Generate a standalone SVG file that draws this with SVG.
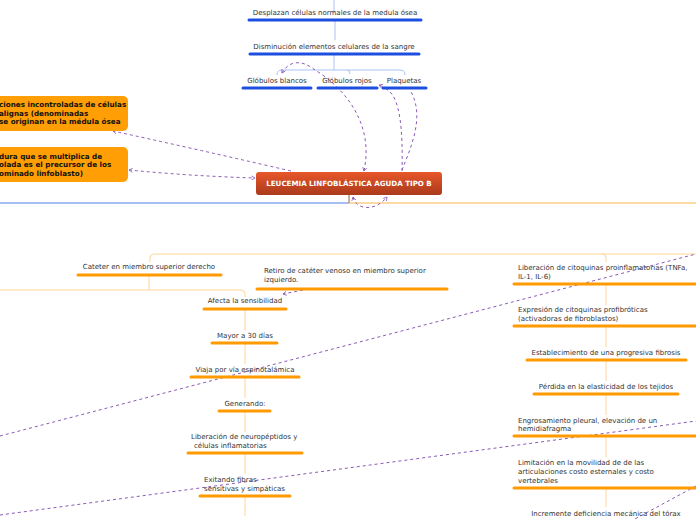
<svg xmlns="http://www.w3.org/2000/svg" width="696" height="520" viewBox="0 0 696 520">
<defs>
<linearGradient id="gr" x1="0" y1="0" x2="0" y2="1"><stop offset="0" stop-color="#e8572a"/><stop offset="1" stop-color="#aa3a1c"/></linearGradient>
<marker id="ar" viewBox="0 0 10 10" refX="8" refY="5" markerWidth="5" markerHeight="5" orient="auto-start-reverse"><path d="M1,1 L8,5 L1,9" fill="none" stroke="#8a5ab8" stroke-width="1.6"/></marker>
</defs>
<style>
text{font-family:"DejaVu Sans","Liberation Sans",sans-serif;font-size:7px;fill:#333}
.c{text-anchor:middle}
.ub{stroke:#1c4fe0;stroke-width:3;stroke-linecap:round}
.uo{stroke:#ff9a00;stroke-width:3;stroke-linecap:round}
.lb{stroke:#a9c3f2;stroke-width:1;fill:none}
.lo{stroke:#ffd699;stroke-width:1;fill:none}
.d{stroke:#8a5ab8;stroke-width:1;stroke-dasharray:3,3;fill:none}
.bx{fill:#ff9e05}
.bt{font-weight:bold;fill:#111;font-size:7.2px}
</style>
<rect width="696" height="520" fill="#fff"/>
<g id="links">
<path class="lb" d="M334,0 V13 M335,21 V40 M334,55 V70 M277,75 Q277,70 282,70 H400 Q405,70 405,75 M347,70 Q350,70 350,74"/>
<path d="M0,203 H349" stroke="#4f7fe8" stroke-width="1.2"/>
<path d="M349,203 H696" stroke="#f8b54c" stroke-width="1.2"/>
<path d="M349,195 V203" stroke="#b79a74" stroke-width="1.5"/>
<path class="lo" d="M150,262 V258 Q150,254 154,254 H696 M602,254 Q606,254 606,258 V262"/>
<path class="lo" d="M149,276 V290 M0,290 H241 Q245,290 245,294 V297"/>
<path class="lo" d="M245,310 V330 M245,344 V364 M245,378 V398 M245,412 V432 M245,454 V474 M245,497 V516"/>
<path class="lo" d="M606,285 V305 M606,327 V347 M606,361 V381 M606,395 V415 M606,437 V457 M606,489 V507"/>
<path class="d" d="M291,171 Q200,150 113,131" marker-end="url(#ar)"/>
<path class="d" d="M129,170 Q190,176 255,178" marker-start="url(#ar)" marker-end="url(#ar)"/>
<path class="d" d="M364,171 C375,120 340,85 315,70 C300,58 288,62 282,73" marker-start="url(#ar)" marker-end="url(#ar)"/>
<path class="d" d="M402,171 C403,130 400,100 389,91 Q384,87 379,85" marker-end="url(#ar)"/>
<path class="d" d="M402,170 C412,145 425,115 410,90"/>
<path class="d" d="M353,197 C356,210 375,212 387,197" marker-start="url(#ar)" marker-end="url(#ar)"/>
<path class="d" d="M303,290 L283,294" marker-end="url(#ar)"/>
<path class="d" d="M0,436 L696,254"/>
<path class="d" d="M0,515 L696,421"/>
<path class="d" d="M696,486 L633,520"/>
</g>
<g id="n-desplazan"><text class="c" x="335" y="15">Desplazan células normales de la medula ósea</text><line class="ub" x1="249" y1="20" x2="421" y2="20"/></g>
<g id="n-disminucion"><text class="c" x="334" y="49">Disminución elementos celulares de la sangre</text><line class="ub" x1="250" y1="54" x2="419" y2="54"/></g>
<g id="n-blancos"><text class="c" x="277" y="83">Glóbulos blancos</text><line class="ub" x1="243" y1="88" x2="311" y2="88"/></g>
<g id="n-rojos"><text class="c" x="347" y="83">Glóbulos rojos</text><line class="ub" x1="318" y1="88" x2="377" y2="88"/></g>
<g id="n-plaquetas"><text class="c" x="404" y="83">Plaquetas</text><line class="ub" x1="383" y1="88" x2="426" y2="88"/></g>
<g id="n-main"><rect x="256" y="172" width="186" height="23" rx="3" fill="url(#gr)"/><text class="c" x="349" y="186" style="fill:#fff;font-weight:bold;font-size:7.1px">LEUCEMIA LINFOBLÁSTICA AGUDA TIPO B</text></g>
<g id="n-box1"><rect class="bx" x="-10" y="96" width="138" height="35" rx="5"/><text class="bt" x="-1" y="107">ciones incontroladas de células</text><text class="bt" x="-1" y="116">alignas (denominadas</text><text class="bt" x="-1" y="124">se originan en la médula ósea</text></g>
<g id="n-box2"><rect class="bx" x="-10" y="147" width="138" height="35" rx="5"/><text class="bt" x="-1" y="159">dura que se multiplica de</text><text class="bt" x="-1" y="167">olada es el precursor de los</text><text class="bt" x="-1" y="176">ominado linfoblasto)</text></g>
<g id="n-cateter"><text class="c" x="149" y="269">Cateter  en miembro superior derecho</text><line class="uo" x1="78" y1="275" x2="221" y2="275"/></g>
<g id="n-retiro"><text x="264" y="273">Retiro de catéter venoso en miembro superior</text><text x="264" y="282">izquierdo.</text><line class="uo" x1="257" y1="289" x2="447" y2="289"/></g>
<g id="n-afecta"><text class="c" x="245" y="303">Afecta la sensibilidad</text><line class="uo" x1="204" y1="309" x2="286" y2="309"/></g>
<g id="n-mayor"><text class="c" x="245" y="338">Mayor a 30 días</text><line class="uo" x1="212" y1="343" x2="277" y2="343"/></g>
<g id="n-viaja"><text class="c" x="245" y="372">Viaja por vía espinotalámica</text><line class="uo" x1="191" y1="377" x2="299" y2="377"/></g>
<g id="n-generando"><text class="c" x="245" y="406">Generando:</text><line class="uo" x1="219" y1="411" x2="270" y2="411"/></g>
<g id="n-liberacion"><text x="191" y="439">Liberación de neuropéptidos y</text><text x="194" y="448">células inflamatorias</text><line class="uo" x1="188" y1="453" x2="302" y2="453"/></g>
<g id="n-exitando"><text x="204" y="482">Exitando fibras</text><text x="204" y="491">sensitivas y simpáticas</text><line class="uo" x1="200" y1="496" x2="290" y2="496"/></g>
<g id="n-citoquinas"><text x="518" y="270">Liberación de citoquinas proinflamatorias (TNFa,</text><text x="518" y="279">IL-1, IL-6)</text><line class="uo" x1="514" y1="284" x2="700" y2="284"/></g>
<g id="n-expresion"><text x="518" y="312">Expresión de citoquinas profibróticas</text><text x="518" y="321">(activadoras de fibroblastos)</text><line class="uo" x1="514" y1="326" x2="700" y2="326"/></g>
<g id="n-fibrosis"><text class="c" x="606" y="355">Establecimiento de una progresiva fibrosis</text><line class="uo" x1="527" y1="360" x2="686" y2="360"/></g>
<g id="n-perdida"><text class="c" x="606" y="389">Pérdida en la elasticidad de los tejidos</text><line class="uo" x1="534" y1="394" x2="678" y2="394"/></g>
<g id="n-engrosamiento"><text x="518" y="423">Engrosamiento pleural, elevación de un</text><text x="518" y="431">hemidiafragma</text><line class="uo" x1="514" y1="436" x2="700" y2="436"/></g>
<g id="n-limitacion"><text x="518" y="465">Limitación en la movilidad de de las</text><text x="518" y="474">articulaciones costo esternales y costo</text><text x="518" y="483">vertebrales</text><line class="uo" x1="514" y1="488" x2="700" y2="488"/></g>
<g id="n-incremente"><text class="c" x="606" y="516">Incremente deficiencia mecánica del tórax</text></g>
</svg>
